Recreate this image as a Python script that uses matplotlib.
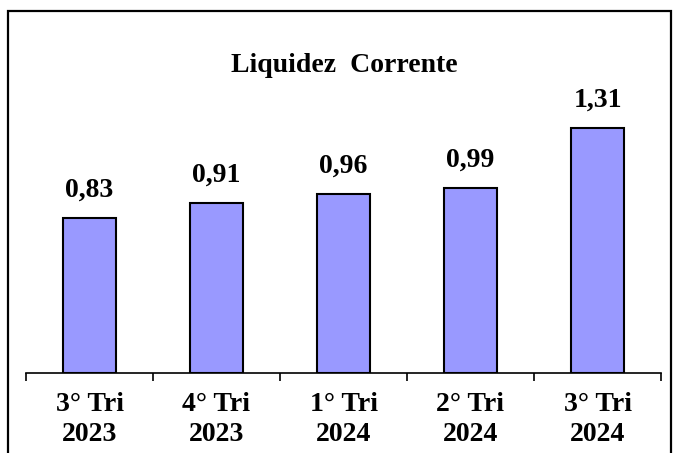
import matplotlib
matplotlib.use('Agg')
import matplotlib.pyplot as plt
from matplotlib.patches import Rectangle

# data
categories = ['3° Tri\n2023', '4° Tri\n2023', '1° Tri\n2024', '2° Tri\n2024', '3° Tri\n2024']
values = [0.83, 0.91, 0.96, 0.99, 1.31]
value_labels = ['0,83', '0,91', '0,96', '0,99', '1,31']

plt.rcParams['font.family'] = ['Liberation Serif', 'DejaVu Serif']
plt.rcParams['font.weight'] = 'bold'

W, H = 673, 453
fig = plt.figure(figsize=(W / 100, H / 100), dpi=100)
ax = fig.add_axes([26 / W, 80 / H, 635 / W, 299 / H])

x = list(range(len(categories)))
ax.bar(x, values, width=0.42, color='#9999FF', edgecolor='black', linewidth=1.5, zorder=3)

for xi, v, lab in zip(x, values, value_labels):
    ax.annotate(lab, (xi, v), xytext=(0, 11), textcoords='offset points',
                ha='center', va='bottom', fontsize=20, fontweight='bold')

ax.set_xlim(-0.5, len(categories) - 0.5)
ax.set_ylim(0, 1.6)
for s in ['top', 'left', 'right']:
    ax.spines[s].set_visible(False)
ax.spines['bottom'].set_linewidth(1.2)
ax.set_yticks([])

ax.set_xticks(x)
ax.set_xticklabels(categories, fontsize=20, fontweight='bold', linespacing=1.25)
ax.tick_params(axis='x', which='major', length=0, pad=14)
ax.set_xticks([i - 0.5 for i in range(len(categories) + 1)], minor=True)
ax.tick_params(axis='x', which='minor', length=6, width=1.2, direction='out')

fig.text(344 / W, 1 - 65 / H, 'Liquidez  Corrente', ha='center', va='center',
         fontsize=20, fontweight='bold')

# outer border
fig.patches.append(Rectangle((8 / W, -0.05), 663 / W, 1 - 11 / H + 0.05,
                             transform=fig.transFigure, fill=False,
                             edgecolor='black', linewidth=1.6))

fig.savefig('out.png', dpi=100)
